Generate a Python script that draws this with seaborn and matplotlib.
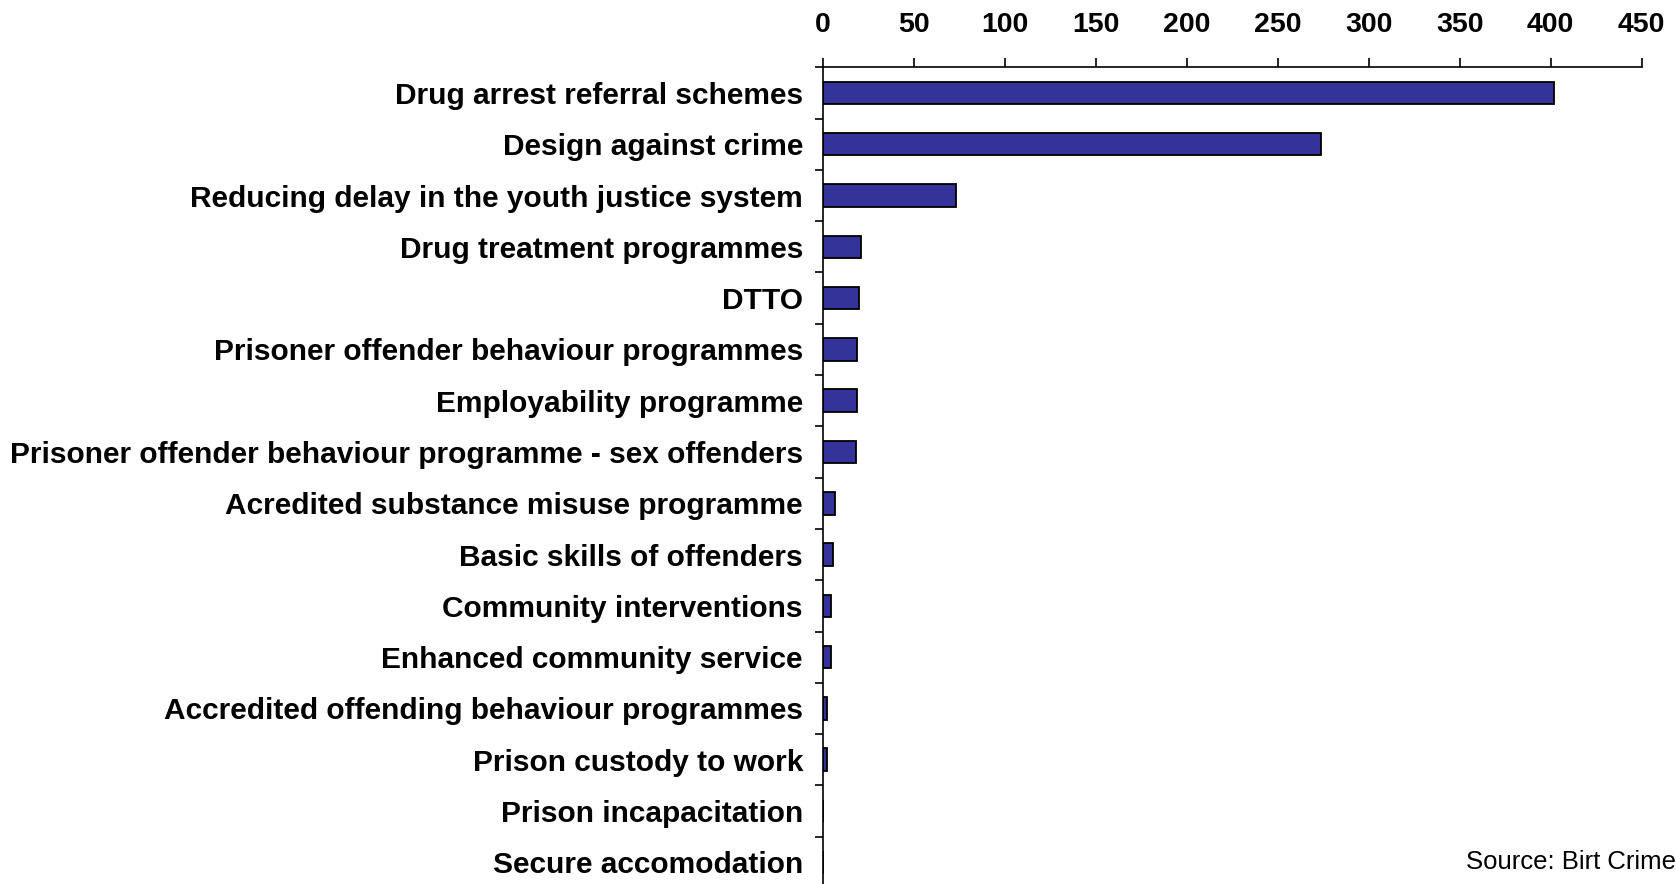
import matplotlib
matplotlib.use("Agg")
import matplotlib.pyplot as plt
import seaborn as sns
import numpy as np
import pandas as pd

categories = [
    "Drug arrest referral schemes",
    "Design against crime",
    "Reducing delay in the youth justice system",
    "Drug treatment programmes",
    "DTTO",
    "Prisoner offender behaviour programmes",
    "Employability programme",
    "Prisoner offender behaviour programme - sex offenders",
    "Acredited substance misuse programme",
    "Basic skills of offenders",
    "Community interventions",
    "Enhanced community service",
    "Accredited offending behaviour programmes",
    "Prison custody to work",
    "Prison incapacitation",
    "Secure accomodation",
]
values = [402, 274, 73, 21, 20, 19, 19, 18, 6.5, 5.5, 4.5, 4.5, 2.2, 2.2, 0, 0]
x_ticks = [0, 50, 100, 150, 200, 250, 300, 350, 400, 450]
source_text = "Source: Birt Crime"

df = pd.DataFrame({"category": categories, "value": values})

sns.set_style("white")
plt.rcParams["font.family"] = ["Liberation Sans", "DejaVu Sans"]
plt.rcParams["text.color"] = "black"
plt.rcParams["xtick.color"] = "black"
plt.rcParams["ytick.color"] = "black"
plt.rcParams["axes.labelcolor"] = "black"

fig = plt.figure(figsize=(16.76, 8.84), dpi=100)
ax = fig.add_axes([0.491, -0.0045, 0.4885, 0.9284])

sns.barplot(data=df, x="value", y="category", orient="h", color="#333399",
            edgecolor="black", linewidth=1.3, width=0.44, saturation=1, ax=ax)

ax.set_xlim(0, 450)
ax.set_ylim(len(categories) - 0.5, -0.5)
ax.xaxis.tick_top()
ax.set_xticks(x_ticks)
ax.set_xticklabels([str(t) for t in x_ticks], fontsize=20.5, fontweight="bold",
                   color="black")
ax.tick_params(axis="x", which="major", direction="out", length=6.5, width=1.2,
               pad=14.5, colors="black", top=True, bottom=False)
ax.set_yticks(range(len(categories)))
ax.set_yticklabels(categories, fontsize=21.5, fontweight="bold", color="black")
ax.tick_params(axis="y", which="major", length=0, pad=14.4)
ax.set_yticks(np.arange(-0.5, len(categories), 1), minor=True)
ax.tick_params(axis="y", which="minor", direction="out", length=5.8, width=1.2,
               left=True, colors="black")
ax.set_xlabel("")
ax.set_ylabel("")

for side in ["right", "bottom"]:
    ax.spines[side].set_visible(False)
for side in ["left", "top"]:
    ax.spines[side].set_visible(True)
    ax.spines[side].set_color("black")
    ax.spines[side].set_linewidth(1.2)

fig.text(1465.7 / 1676, 1 - 869.3 / 884, source_text, fontsize=18.5,
         ha="left", va="baseline", color="black")

fig.savefig("out.png", dpi=100)
